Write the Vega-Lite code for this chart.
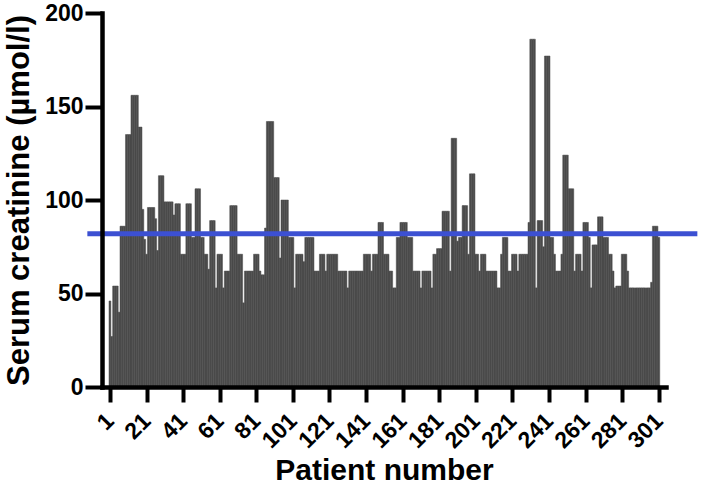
{
"$schema": "https://vega.github.io/schema/vega-lite/v6.json",
"width": 564, "height": 374,
"autosize": {"type": "none"},
"padding": {"left": 102, "top": 13, "right": 39, "bottom": 112},
"background": "white",
"config": {"view": {"stroke": null}, "font": "Liberation Sans"},
"resolve": {"axis": {"x": "independent", "y": "independent"}},
"layer": [
{
"data": {"values": [
{"patient":1,"creatinine":46},{"patient":2,"creatinine":27},{"patient":3,"creatinine":54},{"patient":4,"creatinine":54},{"patient":5,"creatinine":54},
{"patient":6,"creatinine":40},{"patient":7,"creatinine":86},{"patient":8,"creatinine":86},{"patient":9,"creatinine":86},{"patient":10,"creatinine":135},
{"patient":11,"creatinine":135},{"patient":12,"creatinine":135},{"patient":13,"creatinine":156},{"patient":14,"creatinine":156},{"patient":15,"creatinine":156},
{"patient":16,"creatinine":156},{"patient":17,"creatinine":139},{"patient":18,"creatinine":139},{"patient":19,"creatinine":95},{"patient":20,"creatinine":79},
{"patient":21,"creatinine":71},{"patient":22,"creatinine":96},{"patient":23,"creatinine":96},{"patient":24,"creatinine":96},{"patient":25,"creatinine":96},
{"patient":26,"creatinine":90},{"patient":27,"creatinine":73},{"patient":28,"creatinine":113},{"patient":29,"creatinine":113},{"patient":30,"creatinine":113},
{"patient":31,"creatinine":99},{"patient":32,"creatinine":99},{"patient":33,"creatinine":99},{"patient":34,"creatinine":99},{"patient":35,"creatinine":99},
{"patient":36,"creatinine":92},{"patient":37,"creatinine":98},{"patient":38,"creatinine":98},{"patient":39,"creatinine":98},{"patient":40,"creatinine":71},
{"patient":41,"creatinine":71},{"patient":42,"creatinine":71},{"patient":43,"creatinine":98},{"patient":44,"creatinine":98},{"patient":45,"creatinine":98},
{"patient":46,"creatinine":80},{"patient":47,"creatinine":80},{"patient":48,"creatinine":106},{"patient":49,"creatinine":106},{"patient":50,"creatinine":106},
{"patient":51,"creatinine":80},{"patient":52,"creatinine":80},{"patient":53,"creatinine":71},{"patient":54,"creatinine":71},{"patient":55,"creatinine":63},
{"patient":56,"creatinine":89},{"patient":57,"creatinine":89},{"patient":58,"creatinine":89},{"patient":59,"creatinine":53},{"patient":60,"creatinine":71},
{"patient":61,"creatinine":71},{"patient":62,"creatinine":71},{"patient":63,"creatinine":53},{"patient":64,"creatinine":62},{"patient":65,"creatinine":62},
{"patient":66,"creatinine":62},{"patient":67,"creatinine":97},{"patient":68,"creatinine":97},{"patient":69,"creatinine":97},{"patient":70,"creatinine":97},
{"patient":71,"creatinine":71},{"patient":72,"creatinine":71},{"patient":73,"creatinine":71},{"patient":74,"creatinine":45},{"patient":75,"creatinine":62},
{"patient":76,"creatinine":62},{"patient":77,"creatinine":62},{"patient":78,"creatinine":62},{"patient":79,"creatinine":62},{"patient":80,"creatinine":71},
{"patient":81,"creatinine":71},{"patient":82,"creatinine":71},{"patient":83,"creatinine":62},{"patient":84,"creatinine":60},{"patient":85,"creatinine":60},
{"patient":86,"creatinine":85},{"patient":87,"creatinine":142},{"patient":88,"creatinine":142},{"patient":89,"creatinine":142},{"patient":90,"creatinine":142},
{"patient":91,"creatinine":112},{"patient":92,"creatinine":112},{"patient":93,"creatinine":112},{"patient":94,"creatinine":69},{"patient":95,"creatinine":100},
{"patient":96,"creatinine":100},{"patient":97,"creatinine":100},{"patient":98,"creatinine":100},{"patient":99,"creatinine":80},{"patient":100,"creatinine":80},
{"patient":101,"creatinine":80},{"patient":102,"creatinine":53},{"patient":103,"creatinine":71},{"patient":104,"creatinine":71},{"patient":105,"creatinine":71},
{"patient":106,"creatinine":71},{"patient":107,"creatinine":67},{"patient":108,"creatinine":80},{"patient":109,"creatinine":80},{"patient":110,"creatinine":80},
{"patient":111,"creatinine":80},{"patient":112,"creatinine":80},{"patient":113,"creatinine":62},{"patient":114,"creatinine":62},{"patient":115,"creatinine":62},
{"patient":116,"creatinine":71},{"patient":117,"creatinine":71},{"patient":118,"creatinine":71},{"patient":119,"creatinine":62},{"patient":120,"creatinine":71},
{"patient":121,"creatinine":71},{"patient":122,"creatinine":71},{"patient":123,"creatinine":71},{"patient":124,"creatinine":71},{"patient":125,"creatinine":71},
{"patient":126,"creatinine":62},{"patient":127,"creatinine":62},{"patient":128,"creatinine":62},{"patient":129,"creatinine":62},{"patient":130,"creatinine":62},
{"patient":131,"creatinine":53},{"patient":132,"creatinine":62},{"patient":133,"creatinine":62},{"patient":134,"creatinine":62},{"patient":135,"creatinine":62},
{"patient":136,"creatinine":62},{"patient":137,"creatinine":62},{"patient":138,"creatinine":62},{"patient":139,"creatinine":62},{"patient":140,"creatinine":71},
{"patient":141,"creatinine":71},{"patient":142,"creatinine":71},{"patient":143,"creatinine":71},{"patient":144,"creatinine":62},{"patient":145,"creatinine":71},
{"patient":146,"creatinine":71},{"patient":147,"creatinine":71},{"patient":148,"creatinine":88},{"patient":149,"creatinine":88},{"patient":150,"creatinine":88},
{"patient":151,"creatinine":71},{"patient":152,"creatinine":71},{"patient":153,"creatinine":71},{"patient":154,"creatinine":62},{"patient":155,"creatinine":62},
{"patient":156,"creatinine":53},{"patient":157,"creatinine":53},{"patient":158,"creatinine":80},{"patient":159,"creatinine":80},{"patient":160,"creatinine":88},
{"patient":161,"creatinine":88},{"patient":162,"creatinine":88},{"patient":163,"creatinine":88},{"patient":164,"creatinine":80},{"patient":165,"creatinine":80},
{"patient":166,"creatinine":80},{"patient":167,"creatinine":62},{"patient":168,"creatinine":62},{"patient":169,"creatinine":62},{"patient":170,"creatinine":62},
{"patient":171,"creatinine":53},{"patient":172,"creatinine":62},{"patient":173,"creatinine":62},{"patient":174,"creatinine":62},{"patient":175,"creatinine":62},
{"patient":176,"creatinine":62},{"patient":177,"creatinine":53},{"patient":178,"creatinine":71},{"patient":179,"creatinine":71},{"patient":180,"creatinine":74},
{"patient":181,"creatinine":74},{"patient":182,"creatinine":74},{"patient":183,"creatinine":94},{"patient":184,"creatinine":94},{"patient":185,"creatinine":94},
{"patient":186,"creatinine":94},{"patient":187,"creatinine":62},{"patient":188,"creatinine":133},{"patient":189,"creatinine":133},{"patient":190,"creatinine":133},
{"patient":191,"creatinine":78},{"patient":192,"creatinine":80},{"patient":193,"creatinine":80},{"patient":194,"creatinine":97},{"patient":195,"creatinine":97},
{"patient":196,"creatinine":97},{"patient":197,"creatinine":71},{"patient":198,"creatinine":114},{"patient":199,"creatinine":114},{"patient":200,"creatinine":114},
{"patient":201,"creatinine":71},{"patient":202,"creatinine":71},{"patient":203,"creatinine":62},{"patient":204,"creatinine":71},{"patient":205,"creatinine":71},
{"patient":206,"creatinine":71},{"patient":207,"creatinine":62},{"patient":208,"creatinine":62},{"patient":209,"creatinine":62},{"patient":210,"creatinine":62},
{"patient":211,"creatinine":62},{"patient":212,"creatinine":62},{"patient":213,"creatinine":53},{"patient":214,"creatinine":53},{"patient":215,"creatinine":71},
{"patient":216,"creatinine":80},{"patient":217,"creatinine":80},{"patient":218,"creatinine":80},{"patient":219,"creatinine":62},{"patient":220,"creatinine":62},
{"patient":221,"creatinine":71},{"patient":222,"creatinine":71},{"patient":223,"creatinine":71},{"patient":224,"creatinine":62},{"patient":225,"creatinine":71},
{"patient":226,"creatinine":71},{"patient":227,"creatinine":71},{"patient":228,"creatinine":71},{"patient":229,"creatinine":71},{"patient":230,"creatinine":88},
{"patient":231,"creatinine":186},{"patient":232,"creatinine":186},{"patient":233,"creatinine":186},{"patient":234,"creatinine":53},{"patient":235,"creatinine":89},
{"patient":236,"creatinine":89},{"patient":237,"creatinine":89},{"patient":238,"creatinine":75},{"patient":239,"creatinine":177},{"patient":240,"creatinine":177},
{"patient":241,"creatinine":177},{"patient":242,"creatinine":80},{"patient":243,"creatinine":80},{"patient":244,"creatinine":71},{"patient":245,"creatinine":62},
{"patient":246,"creatinine":62},{"patient":247,"creatinine":62},{"patient":248,"creatinine":71},{"patient":249,"creatinine":124},{"patient":250,"creatinine":124},
{"patient":251,"creatinine":124},{"patient":252,"creatinine":106},{"patient":253,"creatinine":106},{"patient":254,"creatinine":106},{"patient":255,"creatinine":62},
{"patient":256,"creatinine":71},{"patient":257,"creatinine":71},{"patient":258,"creatinine":71},{"patient":259,"creatinine":62},{"patient":260,"creatinine":88},
{"patient":261,"creatinine":88},{"patient":262,"creatinine":88},{"patient":263,"creatinine":80},{"patient":264,"creatinine":53},{"patient":265,"creatinine":76},
{"patient":266,"creatinine":76},{"patient":267,"creatinine":76},{"patient":268,"creatinine":91},{"patient":269,"creatinine":91},{"patient":270,"creatinine":91},
{"patient":271,"creatinine":80},{"patient":272,"creatinine":80},{"patient":273,"creatinine":80},{"patient":274,"creatinine":71},{"patient":275,"creatinine":71},
{"patient":276,"creatinine":62},{"patient":277,"creatinine":53},{"patient":278,"creatinine":54},{"patient":279,"creatinine":54},{"patient":280,"creatinine":54},
{"patient":281,"creatinine":71},{"patient":282,"creatinine":71},{"patient":283,"creatinine":71},{"patient":284,"creatinine":62},{"patient":285,"creatinine":53},
{"patient":286,"creatinine":53},{"patient":287,"creatinine":53},{"patient":288,"creatinine":53},{"patient":289,"creatinine":53},{"patient":290,"creatinine":53},
{"patient":291,"creatinine":53},{"patient":292,"creatinine":53},{"patient":293,"creatinine":53},{"patient":294,"creatinine":53},{"patient":295,"creatinine":53},
{"patient":296,"creatinine":53},{"patient":297,"creatinine":56},{"patient":298,"creatinine":86},{"patient":299,"creatinine":86},{"patient":300,"creatinine":86},
{"patient":301,"creatinine":80}
]},
"mark": {"type": "bar", "width": 1.86, "color": "#4b4b4b", "stroke": "#4b4b4b", "strokeWidth": 0.5},
"encoding": {
"x": {"field": "patient", "type": "quantitative",
 "scale": {"domain": [-0.61, 302.19], "nice": false, "zero": false},
 "axis": {"values": [1,21,41,61,81,101,121,141,161,181,201,221,241,261,281,301], "format": "d",
  "labelAngle": -45, "labelAlign": "right", "labelBaseline": "middle",
  "labelFontSize": 23, "labelFontWeight": "bold", "labelColor": "black",
  "labelPadding": 15, "labelFlush": false, "labelOverlap": false, "labelBound": false, "labelSeparation": 0,
  "tickSize": 15, "tickWidth": 4, "tickColor": "black",
  "domainWidth": 4.5, "domainColor": "black", "domainCap": "square", "grid": false, "zindex": 1,
  "title": "Patient number", "titleFontSize": 30, "titleFontWeight": "bold", "titleColor": "black", "titlePadding": 3}},
"y": {"field": "creatinine", "type": "quantitative",
 "scale": {"domain": [0, 200], "nice": false},
 "axis": {"values": [0,50,100,150,200],
  "labelFontSize": 23, "labelFontWeight": "bold", "labelColor": "black", "labelPadding": 2,
  "tickSize": 17, "tickWidth": 4, "tickColor": "black",
  "domainWidth": 4.5, "domainColor": "black", "domainCap": "square", "grid": false, "zindex": 1,
  "title": "Serum creatinine (µmol/l)", "titleFontSize": 31, "titleFontWeight": "bold", "titleColor": "black", "titlePadding": 9}}
}
},
{
"data": {"values": [{"threshold": 82}]},
"mark": {"type": "rule", "color": "#3c50d2", "strokeWidth": 5},
"encoding": {
"x": {"datum": -11.35, "type": "quantitative", "axis": null},
"x2": {"datum": 322.06},
"y": {"field": "threshold", "type": "quantitative", "axis": null}
}
}
]
}
